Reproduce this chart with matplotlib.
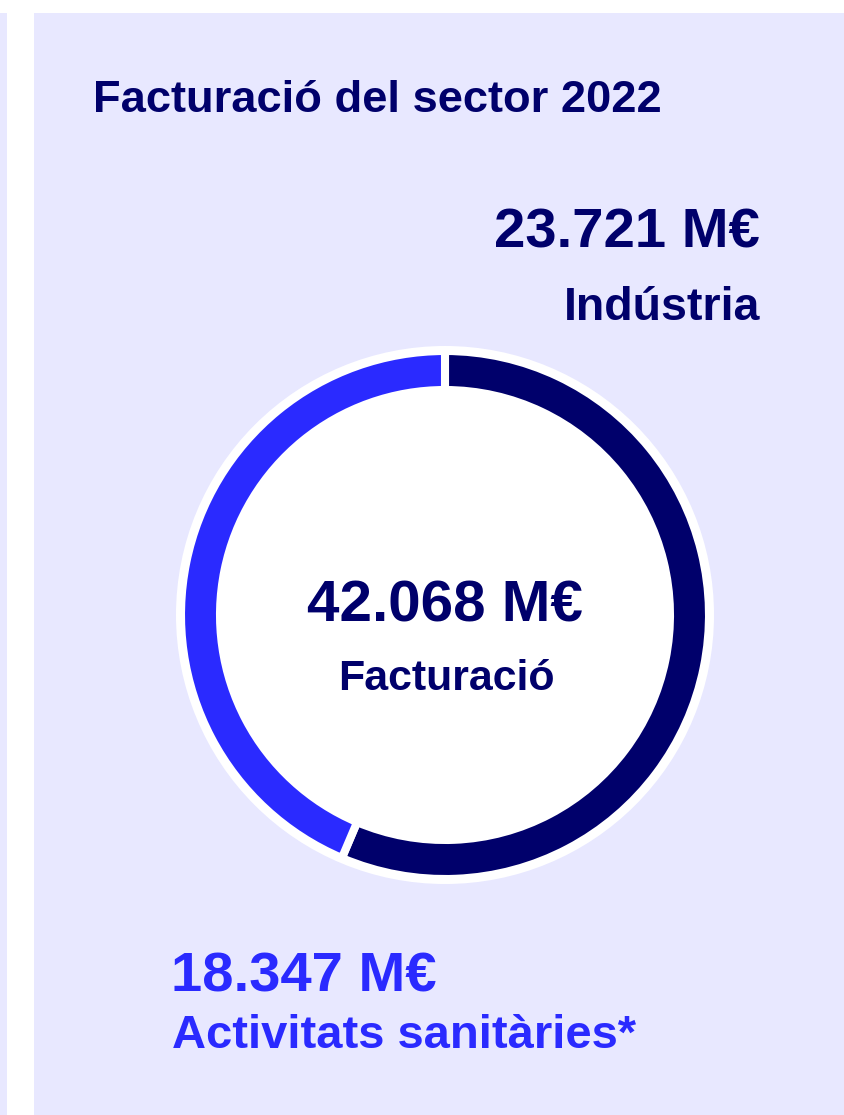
import matplotlib.pyplot as plt
from matplotlib.patches import Rectangle, Circle

# data
labels = ['Indústria', 'Activitats sanitàries*']
values = [23721, 18347]
value_texts = ['23.721 M€', '18.347 M€']
total_text = '42.068 M€'
center_label = 'Facturació'
title = 'Facturació del sector 2022'

navy = '#00006b'
blue = '#2a2aff'
lav = '#e8e8ff'

plt.rcParams['font.family'] = ['Liberation Sans', 'DejaVu Sans']

W, H = 844, 1115
fig = plt.figure(figsize=(W / 100, H / 100), dpi=100)
fig.patch.set_facecolor('white')

# main axes in pixel coords (y downwards)
ax = fig.add_axes([0, 0, 1, 1])
ax.set_xlim(0, W)
ax.set_ylim(H, 0)
ax.axis('off')

ax.add_patch(Rectangle((0, 13), 7, H - 13, color=lav, lw=0))
ax.add_patch(Rectangle((34, 13), W - 34, H - 13, color=lav, lw=0))

# title and labels
ax.text(93, 112, title, fontsize=32.6, fontweight='bold', color=navy, va='baseline', ha='left')
ax.text(760, 247, value_texts[0], fontsize=40.5, fontweight='bold', color=navy, va='baseline', ha='right')
ax.text(760, 320, labels[0], fontsize=33.5, fontweight='bold', color=navy, va='baseline', ha='right')
ax.text(171, 992, value_texts[1], fontsize=40.5, fontweight='bold', color=blue, va='baseline', ha='left')
ax.text(172, 1048, labels[1], fontsize=33.9, fontweight='bold', color=blue, va='baseline', ha='left')

# donut: center (445, 615) px, radius 264 px
cx, cy, R = 445, 615, 264
half = 300
pax = fig.add_axes([(cx - half) / W, (H - cy - half) / H, 2 * half / W, 2 * half / H])
pax.add_patch(Circle((0, 0), 269 / R, color='white', lw=0, zorder=0))
pax.pie(values, colors=[navy, blue], startangle=90, counterclock=False,
        wedgeprops=dict(width=39 / R, edgecolor='white', linewidth=5.8))
pax.set_xlim(-half / R, half / R)
pax.set_ylim(-half / R, half / R)
pax.set_aspect('equal')
pax.axis('off')

# centre text drawn on top of the donut
pax.text(445, 622, total_text, fontsize=42, fontweight='bold', color=navy, va='baseline', ha='center',
         transform=ax.transData)
pax.text(446, 690, center_label, fontsize=30.9, fontweight='bold', color=navy, va='baseline', ha='center',
         transform=ax.transData)

fig.savefig('out.png', dpi=100)
